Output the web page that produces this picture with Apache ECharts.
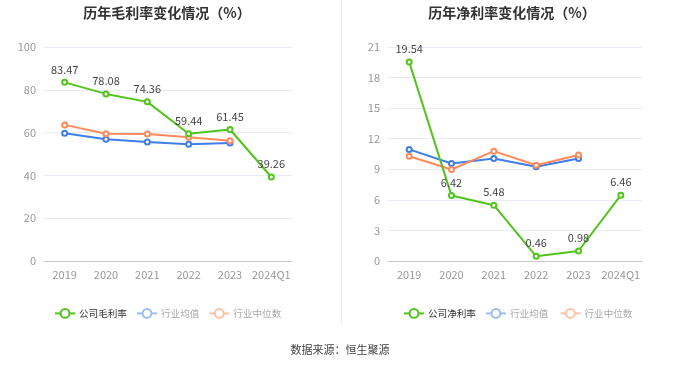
<!DOCTYPE html>
<html><head><meta charset="utf-8">
<script src="https://cdn.jsdelivr.net/npm/echarts@6/dist/echarts.min.js"></script>
<style>html,body{margin:0;padding:0;background:#fff}#c{width:680px;height:367px}</style>
</head><body><div id="c"></div>
<script>
var categories = ['2019','2020','2021','2022','2023','2024Q1'];
var grossCompany = [83.47, 78.08, 74.36, 59.44, 61.45, 39.26];
var grossAvg = [59.7, 56.9, 55.6, 54.5, 55.1];
var grossMedian = [63.6, 59.5, 59.3, 57.8, 56.2];
var netCompany = [19.54, 6.42, 5.48, 0.46, 0.98, 6.46];
var netAvg = [10.95, 9.57, 10.06, 9.24, 10.06];
var netMedian = [10.28, 8.98, 10.78, 9.4, 10.41];
var grossTicks = {min:0, max:100, interval:20};
var netTicks = {min:0, max:21, interval:3};

var FONT = '"Noto Sans CJK SC", "Noto Sans", sans-serif';
var GREEN = '#52c41a', BLUE = '#3f7ee8', ORANGE = '#ff8a5c';
var chart = echarts.init(document.getElementById('c'), null, {renderer:'canvas'});

function xAxis(gi){
  return {type:'category', gridIndex:gi, data:categories, boundaryGap:true,
    axisLine:{lineStyle:{color:'#c8c8c8'}},
    axisTick:{alignWithLabel:true, lineStyle:{color:'#c8c8c8'}},
    axisLabel:{color:'#999', fontSize:11, fontFamily:FONT, margin:8, interval:0}};
}
function yAxis(gi, t){
  return {type:'value', gridIndex:gi, min:t.min, max:t.max, interval:t.interval,
    axisLine:{show:false}, axisTick:{show:false},
    axisLabel:{color:'#999', fontSize:11, fontFamily:FONT, margin:8},
    splitLine:{lineStyle:{color:'#e6ebf5'}}};
}
function line(name, data, color, gi, withLabel){
  return {name:name, type:'line', xAxisIndex:gi, yAxisIndex:gi, data:data,
    symbol:'emptyCircle', symbolSize:5, showSymbol:true,
    lineStyle:{color:color, width:2}, itemStyle:{color:color, borderWidth:1.5},
    label:{show:withLabel, position:'top', color:'#444', fontSize:11, fontFamily:FONT, distance:4},
    z: withLabel?3:2};
}
function legend(left, names){
  return {left:left, top:308, itemWidth:20, itemHeight:11, itemGap:9, padding:0,
    textStyle:{fontFamily:FONT, fontSize:9.6, padding:[0,0,0,-1]},
    data:[
      {name:names[0], textStyle:{color:'#333'}},
      {name:names[1], textStyle:{color:'#aaa'}, itemStyle:{color:'#9dbcf3', borderColor:'#9dbcf3'}, lineStyle:{color:'#9dbcf3'}},
      {name:names[2], textStyle:{color:'#aaa'}, itemStyle:{color:'#ffc1a8', borderColor:'#ffc1a8'}, lineStyle:{color:'#ffc1a8'}}
    ]};
}

chart.setOption({
  animation:false,
  textStyle:{fontFamily:FONT},
  title:[
    {text:'历年毛利率变化情况（%）', left:162, top:1, textAlign:'center', textStyle:{fontSize:14, fontWeight:'bold', color:'#333', fontFamily:FONT}},
    {text:'历年净利率变化情况（%）', left:507, top:1, textAlign:'center', textStyle:{fontSize:14, fontWeight:'bold', color:'#333', fontFamily:FONT}}
  ],
  legend:[
    legend(54, ['公司毛利率','行业均值','行业中位数']),
    legend(403, ['公司净利率','行业均值 ','行业中位数 '])
  ],
  grid:[
    {left:44, right:388, top:47, bottom:106},
    {left:388, right:38, top:47, bottom:106}
  ],
  xAxis:[xAxis(0), xAxis(1)],
  yAxis:[yAxis(0, grossTicks), yAxis(1, netTicks)],
  series:[
    line('行业均值', grossAvg, BLUE, 0, false),
    line('行业中位数', grossMedian, ORANGE, 0, false),
    line('公司毛利率', grossCompany, GREEN, 0, true),
    line('行业均值 ', netAvg, BLUE, 1, false),
    line('行业中位数 ', netMedian, ORANGE, 1, false),
    line('公司净利率', netCompany, GREEN, 1, true)
  ],
  graphic:[
    {type:'line', shape:{x1:341.5, y1:0, x2:341.5, y2:325}, style:{stroke:'#f0f0f0', lineWidth:1}},
    {type:'text', left:'center', top:344, style:{text:'数据来源：恒生聚源', fill:'#444', fontSize:11, fontFamily:FONT}}
  ]
});
</script></body></html>
